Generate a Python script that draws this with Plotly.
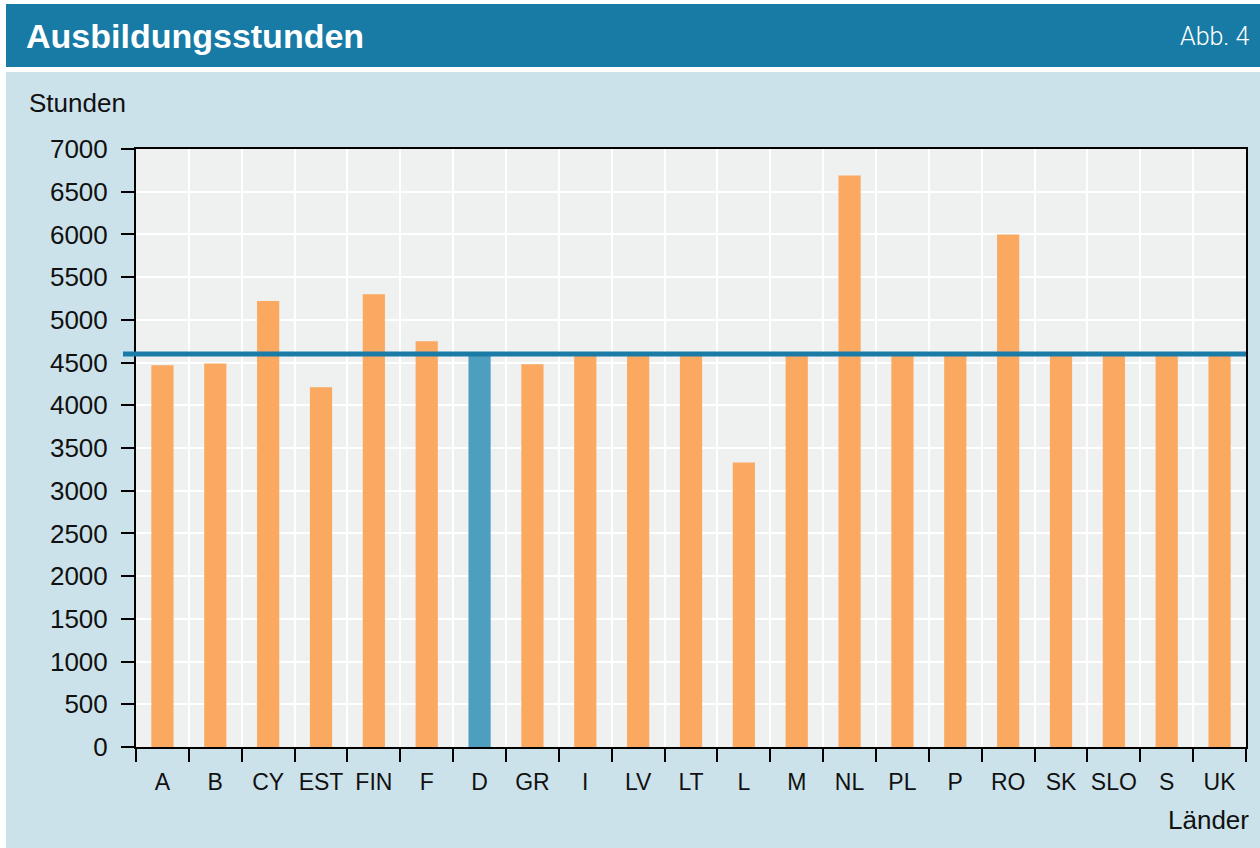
import plotly.graph_objects as go

# ---- data ----
countries = ["A", "B", "CY", "EST", "FIN", "F", "D", "GR", "I", "LV", "LT",
             "L", "M", "NL", "PL", "P", "RO", "SK", "SLO", "S", "UK"]
hours = [4470, 4490, 5220, 4210, 5300, 4750, 4600, 4480, 4600, 4600, 4600,
         3330, 4600, 6690, 4600, 4600, 6000, 4600, 4600, 4600, 4600]
highlight = "D"
reference_hours = 4600
y_ticks = list(range(0, 7001, 500))

# ---- styles ----
ORANGE = "#FBA961"
BLUE_BAR = "#4E9FBF"
LINE_BLUE = "#1A7BA7"
HEADER = "#177BA6"
BG = "#CCE2EA"
PLOT_BG = "#EFF0F0"
FONT = "Liberation Sans"
TXT = "#111111"

W, H = 1260, 848
L, R, T, B = 136, 1246, 149, 747  # plot area in pixels


def px_x(p):
    return (p - L) / (R - L)


def px_y(p):
    return (B - p) / (B - T)


colors = [BLUE_BAR if c == highlight else ORANGE for c in countries]

fig = go.Figure()
fig.add_trace(go.Bar(x=countries, y=hours, marker=dict(color=colors, line=dict(width=0)),
                     width=0.42, hoverinfo="x+y"))

fig.update_layout(
    width=W, height=H,
    margin=dict(l=L, r=W - R, t=T, b=H - B, pad=0),
    paper_bgcolor=BG,
    plot_bgcolor=PLOT_BG,
    showlegend=False,
    font=dict(family=FONT, size=25, color=TXT),
)

fig.update_xaxes(
    type="category", range=[-0.5, len(countries) - 0.5],
    tickson="boundaries", ticks="outside", ticklen=13, tickwidth=2, tickcolor="black",
    showgrid=True, gridcolor="white", gridwidth=2,
    showline=True, linecolor="black", linewidth=2, mirror=True,
    tickfont=dict(family=FONT, size=23, color=TXT),
    tickangle=0,
    ticklabelstandoff=13,
)
fig.update_yaxes(
    range=[0, 7000], tickvals=y_ticks, ticktext=[str(v) for v in y_ticks],
    ticks="outside", ticklen=13, tickwidth=2, tickcolor="black",
    showgrid=True, gridcolor="white", gridwidth=2,
    showline=True, linecolor="black", linewidth=2, mirror=True,
    zeroline=False,
    tickfont=dict(family=FONT, size=26, color=TXT),
    ticklabelstandoff=8,
)

shapes = [
    # white strips around the panel
    dict(type="rect", xref="paper", yref="paper", x0=px_x(0), x1=px_x(W), y0=px_y(72), y1=px_y(0),
         fillcolor="white", line=dict(width=0), layer="below"),
    dict(type="rect", xref="paper", yref="paper", x0=px_x(0), x1=px_x(6), y0=px_y(H), y1=px_y(0),
         fillcolor="white", line=dict(width=0), layer="below"),
    # header band
    dict(type="rect", xref="paper", yref="paper", x0=px_x(6), x1=px_x(W), y0=px_y(67), y1=px_y(4),
         fillcolor=HEADER, line=dict(width=0), layer="below"),
    # reference line
    dict(type="line", xref="paper", yref="y", x0=px_x(123), x1=1.0,
         y0=reference_hours, y1=reference_hours,
         line=dict(color=LINE_BLUE, width=5), layer="above"),
]
fig.update_layout(shapes=shapes)

annotations = [
    dict(text="<b>Ausbildungsstunden</b>", xref="paper", yref="paper", x=px_x(24), y=px_y(36),
         xanchor="left", yanchor="middle", showarrow=False,
         font=dict(family=FONT, size=34, color="white")),
    dict(text="Abb. 4", xref="paper", yref="paper", x=px_x(1251), y=px_y(36),
         xanchor="right", yanchor="middle", showarrow=False,
         font=dict(family="Roboto", size=25, color="white", weight=300)),
    dict(text="Stunden", xref="paper", yref="paper", x=px_x(27), y=px_y(103),
         xanchor="left", yanchor="middle", showarrow=False,
         font=dict(family=FONT, size=26, color=TXT)),
    dict(text="Länder", xref="paper", yref="paper", x=px_x(1251), y=px_y(820),
         xanchor="right", yanchor="middle", showarrow=False,
         font=dict(family=FONT, size=26, color=TXT)),
]
fig.update_layout(annotations=annotations)

fig.write_html("out.html", config={"displayModeBar": False},
               post_script="document.body.style.margin='0';")
